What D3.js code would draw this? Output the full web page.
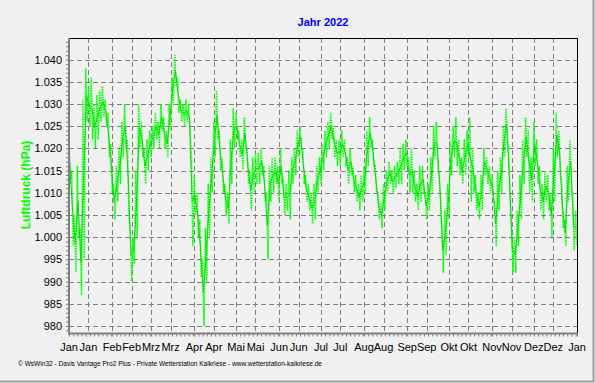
<!DOCTYPE html>
<html>
<head>
<meta charset="utf-8">
<script src="https://cdn.jsdelivr.net/npm/d3@7"></script>
<style>
  body { margin: 0; background: #f0f0f0; }
  svg { display: block; font-family: "Liberation Sans", Arial, sans-serif; }
</style>
</head>
<body>
<svg id="chart" width="595" height="383"></svg>
<script>
const width = 595;
const height = 383;

// pressure in hPa, one reading every 2 days from 1 Jan 2022 (day 0, 2, 4 ... 364)
const pressLow = [
  1012, 998, 992, 1000, 987, 995, 1026, 1025, 1022, 1020, 1022, 1026, 1027, 1025, 1018, 1010,
  1004, 1008, 1012, 1018, 1020, 1005, 990, 994, 1000, 1020, 1018, 1012, 1015, 1018, 1020, 1022,
  1020, 1024, 1020, 1018, 1024, 1030, 1034, 1028, 1026, 1025, 1026, 1024, 998, 1005, 1000, 991,
  980, 990, 1000, 1010, 1018, 1022, 1015, 1010, 1005, 1003, 1012, 1020, 1022, 1018, 1015, 1020,
  1012, 1006, 1010, 1012, 1012, 1014, 1008, 995, 1008, 1010, 1012, 1008, 1012, 1005, 1006, 1004,
  1012, 1014, 1018, 1020, 1012, 1008, 1006, 1003, 1004, 1010, 1012, 1015, 1018, 1020, 1022, 1018,
  1016, 1016, 1018, 1016, 1012, 1014, 1010, 1008, 1006, 1008, 1010, 1016, 1020, 1016, 1010, 1004,
  1002, 1006, 1010, 1012, 1010, 1011, 1012, 1012, 1015, 1016, 1010, 1010, 1008, 1006, 1008, 1010,
  1004, 1006, 1010, 1018, 1016, 1008, 992, 996, 1004, 1014, 1018, 1016, 1014, 1012, 1014, 1018,
  1008, 1010, 1006, 1004, 1006, 1014, 1012, 1010, 1008, 998, 1006, 1010, 1018, 1022, 1008, 992,
  992, 998, 1004, 1012, 1018, 1010, 1008, 1016, 1012, 1006, 1004, 1008, 1006, 1000, 1008, 1018,
  1014, 1002, 998, 1008, 1012, 997, 998
];
const pressHigh = [
  1022, 1015, 1005, 1016, 1002, 1031, 1038, 1034, 1036, 1030, 1032, 1033, 1034, 1031, 1028, 1021,
  1012, 1016, 1020, 1026, 1030, 1022, 1002, 1000, 1015, 1030, 1026, 1020, 1022, 1024, 1025, 1028,
  1026, 1030, 1027, 1024, 1030, 1036, 1041, 1036, 1031, 1030, 1031, 1030, 1018, 1014, 1010, 1004,
  995, 1002, 1012, 1018, 1026, 1033, 1024, 1018, 1012, 1010, 1022, 1029, 1028, 1024, 1022, 1027,
  1020, 1015, 1018, 1019, 1019, 1020, 1016, 1010, 1016, 1018, 1018, 1016, 1020, 1013, 1012, 1015,
  1018, 1020, 1024, 1025, 1020, 1014, 1012, 1010, 1012, 1016, 1018, 1021, 1024, 1026, 1028, 1025,
  1022, 1022, 1024, 1022, 1018, 1020, 1016, 1014, 1012, 1014, 1016, 1024, 1027, 1022, 1016, 1010,
  1008, 1012, 1015, 1017, 1015, 1016, 1017, 1020, 1021, 1022, 1018, 1020, 1015, 1012, 1016, 1016,
  1010, 1012, 1018, 1025, 1026, 1014, 1002, 1006, 1012, 1022, 1025, 1027, 1022, 1018, 1022, 1024,
  1027, 1020, 1014, 1010, 1014, 1020, 1018, 1016, 1014, 1008, 1015, 1018, 1025, 1029, 1018, 1002,
  1000, 1006, 1014, 1022, 1027, 1024, 1018, 1026, 1022, 1016, 1012, 1015, 1014, 1010, 1020, 1028,
  1024, 1012, 1004, 1016, 1022, 1008, 1006
];
const sampleStep = 2; // days between readings

const yTicks = [980, 985, 990, 995, 1000, 1005, 1010, 1015, 1020, 1025, 1030, 1035, 1040];
const monthNames = ["Jan", "Feb", "Mrz", "Apr", "Mai", "Jun", "Jul", "Aug", "Sep", "Okt", "Nov", "Dez"];

const titleText = "Jahr 2022";
const yTitle = "Luftdruck (hPa)";
const footer = "\u00a9 WsWin32  -  Davis Vantage Pro2 Plus  -  Private Wetterstation Kalkriese - www.wetterstation-kalkriese.de";

const margin = { left: 69, right: 577, top: 38, bottom: 333.5 };

const svg = d3.select("#chart");

svg.append("rect")
  .attr("width", width)
  .attr("height", height)
  .attr("fill", "#f0f0f0");

// outer frame (right and bottom edge only)
svg.append("path")
  .attr("d", `M${width - 1.5},0 V${height - 1.5} H0`)
  .attr("fill", "none")
  .attr("stroke", "#a0a0a0")
  .attr("stroke-width", 2);

const x = d3.scaleTime()
  .domain([new Date(2022, 0, 1), new Date(2023, 0, 1)])
  .range([margin.left, margin.right]);

const y = d3.scaleLinear()
  .domain([978.3, 1044.85])
  .range([margin.bottom, margin.top]);

// grid ticks: 1st and 15th of each month
const gridDates = [];
for (let m = 0; m < 12; m++) {
  gridDates.push(new Date(2022, m, 1));
  gridDates.push(new Date(2022, m, 15));
}
gridDates.push(new Date(2023, 0, 1));
const gridLabels = gridDates.map(d => monthNames[d.getMonth()]);

const grid = svg.append("g");
grid.selectAll(".vgrid")
  .data(gridDates.slice(1, -1))
  .enter()
  .append("line")
  .attr("x1", d => Math.round(x(d)) + 0.5)
  .attr("x2", d => Math.round(x(d)) + 0.5)
  .attr("y1", margin.top)
  .attr("y2", margin.bottom)
  .attr("stroke", "#808080")
  .attr("stroke-dasharray", "5,3");

grid.selectAll(".hgrid")
  .data(yTicks)
  .enter()
  .append("line")
  .attr("x1", margin.left)
  .attr("x2", margin.right)
  .attr("y1", d => Math.round(y(d)) + 0.5)
  .attr("y2", d => Math.round(y(d)) + 0.5)
  .attr("stroke", "#808080")
  .attr("stroke-dasharray", "5,3");

// data
const start = new Date(2022, 0, 1);
const points = [];
pressLow.forEach((lo, i) => {
  const day = i * sampleStep;
  points.push({ t: d3.timeDay.offset(start, day), v: pressHigh[i] });
  points.push({ t: d3.timeDay.offset(start, day + 1), v: lo });
});

const line = d3.line()
  .x(d => x(d.t))
  .y(d => y(d.v));

svg.append("path")
  .datum(points)
  .attr("fill", "none")
  .attr("stroke", "#00ff00")
  .attr("stroke-width", 1.5)
  .attr("stroke-dasharray", "1.5,1")
  .attr("d", line);

svg.append("path")
  .datum(pressLow.map((lo, i) => ({
    t: d3.timeHour.offset(start, i * sampleStep * 24 + 12),
    v: (lo + pressHigh[i]) / 2
  })))
  .attr("fill", "none")
  .attr("stroke", "#00e000")
  .attr("stroke-width", 1)
  .attr("d", line);

// frame: top & right black, left & bottom grey axis
svg.append("path")
  .attr("d", `M${margin.left},${margin.top + 0.5} H${margin.right + 0.5} V${margin.bottom}`)
  .attr("fill", "none")
  .attr("stroke", "#000");

const yAxis = d3.axisLeft(y)
  .tickValues(d3.range(979, 1045, 1))
  .tickSize(3)
  .tickFormat("");
svg.append("g")
  .attr("transform", `translate(${margin.left},0)`)
  .call(yAxis)
  .call(g => g.select(".domain").remove())
  .call(g => g.selectAll("line").attr("stroke", "#808080"));

const xAxis = d3.axisBottom(x)
  .ticks(d3.timeDay.every(3))
  .tickSize(3)
  .tickFormat("");
svg.append("g")
  .attr("transform", `translate(0,${margin.bottom})`)
  .call(xAxis)
  .call(g => g.select(".domain").remove())
  .call(g => g.selectAll("line").attr("stroke", "#808080"));

svg.append("line")
  .attr("x1", margin.left)
  .attr("x2", margin.left)
  .attr("y1", margin.top)
  .attr("y2", margin.bottom + 1)
  .attr("stroke", "#808080")
  .attr("stroke-width", 2);
svg.append("line")
  .attr("x1", margin.left - 1)
  .attr("x2", margin.right + 1)
  .attr("y1", margin.bottom)
  .attr("y2", margin.bottom)
  .attr("stroke", "#808080")
  .attr("stroke-width", 2);

// labels
svg.selectAll(".ylab")
  .data(yTicks)
  .enter()
  .append("text")
  .attr("x", 62)
  .attr("y", d => y(d) + 4)
  .attr("text-anchor", "end")
  .attr("font-size", "11px")
  .text(d => d3.format(",")(d).replace(",", "."));

svg.selectAll(".xlab")
  .data(gridDates)
  .enter()
  .append("text")
  .attr("x", d => x(d))
  .attr("y", 351)
  .attr("text-anchor", "middle")
  .attr("font-size", "11px")
  .text((d, i) => gridLabels[i]);

svg.append("text")
  .attr("x", (margin.left + margin.right) / 2)
  .attr("y", 26)
  .attr("text-anchor", "middle")
  .attr("font-size", "11px")
  .attr("font-weight", "bold")
  .attr("fill", "#0000ff")
  .text(titleText);

svg.append("text")
  .attr("transform", `translate(30,185) rotate(-90)`)
  .attr("text-anchor", "middle")
  .attr("font-size", "12px")
  .attr("font-weight", "bold")
  .attr("fill", "#00ff00")
  .text(yTitle);

svg.append("text")
  .attr("x", 18)
  .attr("y", 366)
  .attr("font-size", "6.5px")
  .attr("textLength", 304)
  .attr("lengthAdjust", "spacingAndGlyphs")
  .text(footer);
</script>
</body>
</html>
